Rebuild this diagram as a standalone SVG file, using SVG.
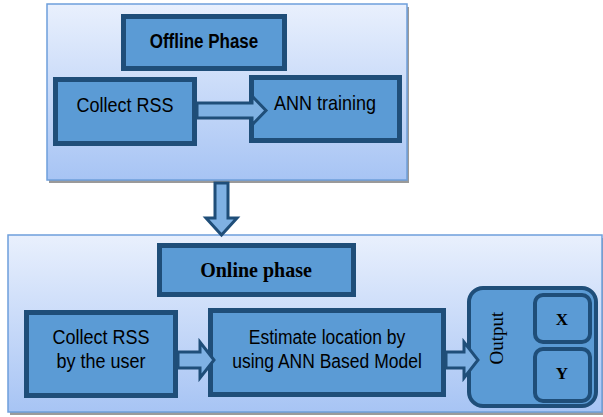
<svg xmlns="http://www.w3.org/2000/svg" width="603" height="417" viewBox="0 0 603 417">
<style>
.phase{stroke:#6E9FDB;stroke-width:1.5}
.box{fill:#5B9BD5;stroke:#1F4E79;stroke-width:5}
.arr{fill:#7FB1E3;stroke:#1F4E79;stroke-width:3;stroke-linejoin:miter}
.sans{font-family:"Liberation Sans",Arial,sans-serif;fill:#000;text-anchor:middle}
.serif{font-family:"Liberation Serif","Times New Roman",serif;fill:#000;text-anchor:middle}
</style>
<defs>
<linearGradient id="bg" x1="0" y1="0" x2="0" y2="1">
<stop offset="0" stop-color="#E9F0FD"/>
<stop offset="1" stop-color="#A7C4F4"/>
</linearGradient>
</defs>
<rect x="0" y="0" width="603" height="417" fill="#fff"/>
<g id="offline-container">
<rect x="49" y="7" width="360" height="176" fill="#9A9A9A"/>
<rect class="phase" x="47" y="4" width="360" height="176" fill="url(#bg)"/>
</g>
<g id="online-container">
<rect x="10" y="238" width="594" height="177" fill="#9A9A9A"/>
<rect class="phase" x="8" y="235" width="594" height="177" fill="url(#bg)"/>
</g>
<g id="offline-phase">
<rect class="box" x="123.5" y="16.5" width="161" height="52"/>
<text class="sans" transform="translate(204,48) scale(1,1.15)" font-size="17" font-weight="bold">Offline Phase</text>
</g>
<g id="collect-rss">
<rect class="box" x="55.5" y="79.5" width="139" height="64"/>
<text class="sans" transform="translate(125,112) scale(1,1.15)" font-size="18">Collect RSS</text>
</g>
<g id="ann-training">
<rect class="box" x="251.5" y="77.5" width="148" height="63"/>
<text class="sans" transform="translate(325,110) scale(1,1.15)" font-size="18">ANN training</text>
</g>
<g id="online-phase">
<rect class="box" x="159.5" y="245.5" width="194" height="49"/>
<text class="serif" transform="translate(256,277) scale(1,1.05)" font-size="20" font-weight="bold">Online phase</text>
</g>
<g id="collect-user">
<rect class="box" x="26.5" y="312.5" width="149" height="83"/>
<text class="sans" transform="translate(101,344) scale(1,1.15)" font-size="18">Collect RSS</text>
<text class="sans" transform="translate(101,368) scale(1,1.15)" font-size="18">by the user</text>
</g>
<g id="estimate">
<rect class="box" x="210.5" y="310.5" width="233" height="84"/>
<text class="sans" transform="translate(327,344) scale(1,1.15)" font-size="17.5">Estimate location by</text>
<text class="sans" transform="translate(327,368) scale(1,1.15)" font-size="17.5">using ANN Based Model</text>
</g>
<g id="output">
<rect x="469" y="288" width="127" height="118" rx="14" fill="#5B9BD5" stroke="#1F4E79" stroke-width="4"/>
<text class="serif" transform="translate(503,338) rotate(-90)" font-size="19">Output</text>
</g>
<g id="x">
<rect x="535" y="295" width="55" height="47" rx="8" fill="#5B9BD5" stroke="#1F4E79" stroke-width="4"/>
<text class="serif" x="562" y="325" font-size="17" font-weight="bold">X</text>
</g>
<g id="y">
<rect x="535" y="349" width="55" height="52" rx="8" fill="#5B9BD5" stroke="#1F4E79" stroke-width="4"/>
<text class="serif" x="562" y="379" font-size="17" font-weight="bold">Y</text>
</g>
<g id="connectors">
<polygon class="arr" points="197,103 252,103 252,96 266,110.5 252,125 252,118 197,118"/>
<polygon class="arr" points="215,183 228,183 228,218 237,218 221.5,235 206,218 215,218"/>
<polygon class="arr" points="178,352 200,352 200,342 214,360 200,378 200,368 178,368"/>
<polygon class="arr" points="446,352 464,352 464,342 478,360 464,378 464,368 446,368"/>
</g>
</svg>
